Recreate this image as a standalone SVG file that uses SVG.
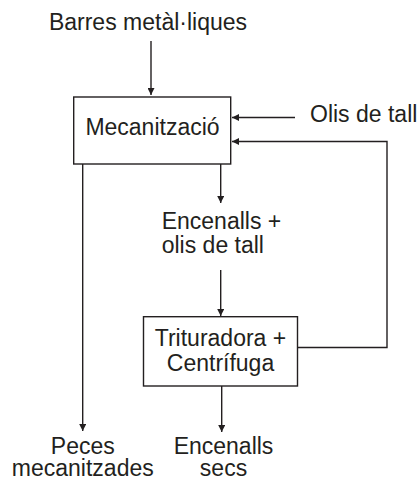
<svg xmlns="http://www.w3.org/2000/svg" width="419" height="479" viewBox="0 0 419 479">
<defs>
<marker id="ah" viewBox="0 0 10 10" refX="10" refY="5" markerWidth="7" markerHeight="7" markerUnits="userSpaceOnUse" orient="auto">
<path d="M0,0 L10,5 L0,10 z" fill="#231f20"/>
</marker>
<style>
text{font-family:"Liberation Sans",Arial,sans-serif;font-size:23px;fill:#231f20}
.box{fill:#fff;stroke:#231f20;stroke-width:1.4}
.c{fill:none;stroke:#231f20;stroke-width:1.4}
.a{marker-end:url(#ah)}
</style>
</defs>
<rect width="419" height="479" fill="#fff"/>
<g id="connectors">
<line class="c a" x1="151" y1="41" x2="151" y2="95"/>
<line class="c a" x1="295" y1="117.5" x2="232" y2="117.5"/>
<polyline class="c a" points="297.5,347.5 387,347.5 387,141.5 232,141.5"/>
<line class="c a" x1="82.7" y1="164" x2="82.7" y2="431"/>
<line class="c a" x1="220.7" y1="164" x2="220.7" y2="203"/>
<line class="c a" x1="220.7" y1="270" x2="220.7" y2="316"/>
<line class="c a" x1="221.7" y1="386" x2="221.7" y2="432"/>
</g>
<g id="barres"><text x="148" y="30" text-anchor="middle">Barres metàl·liques</text></g>
<g id="olis"><text x="310" y="122">Olis de tall</text></g>
<g id="mecanitzacio">
<rect class="box" x="73.7" y="97" width="157" height="67"/>
<text x="152.5" y="135" text-anchor="middle">Mecanització</text>
</g>
<g id="encenalls-olis">
<text x="161.7" y="229">Encenalls +</text>
<text x="161.7" y="252.7">olis de tall</text>
</g>
<g id="trituradora">
<rect class="box" x="143.5" y="316.7" width="154" height="69.3"/>
<text x="220.5" y="346" text-anchor="middle">Trituradora +</text>
<text x="220.5" y="371" text-anchor="middle">Centrífuga</text>
</g>
<g id="peces">
<text x="82.8" y="454" text-anchor="middle">Peces</text>
<text x="82.8" y="476" text-anchor="middle">mecanitzades</text>
</g>
<g id="encenalls-secs">
<text x="223.5" y="454" text-anchor="middle">Encenalls</text>
<text x="223.5" y="476" text-anchor="middle">secs</text>
</g>
</svg>
